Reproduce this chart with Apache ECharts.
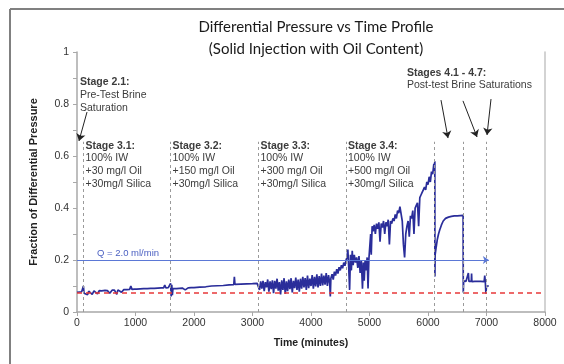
<!DOCTYPE html>
<html>
<head>
<meta charset="utf-8">
<script src="https://cdn.jsdelivr.net/npm/echarts@6/dist/echarts.min.js"></script>
<style>
  html, body { margin: 0; padding: 0; background: #fff; }
  #chart { width: 564px; height: 364px; }
</style>
</head>
<body>
<div id="chart"></div>
<script>
// stage boundaries (minutes)
const stageBounds = [100, 1600, 3100, 4600, 6100, 6600, 7000]
const flowLevel = 0.2
const flowEnd = 7040
const baseLevel = 0.075

// Stage 2.1 + 3.1
const t31 = [0, 40, 80, 100, 110, 120, 150, 180, 200, 230, 260, 290, 320, 350, 380, 420, 450, 480, 520, 560, 600, 640, 680, 700, 720, 760, 800, 850, 900, 920, 940, 980, 1020, 1080, 1140, 1200, 1260, 1320, 1380, 1440, 1480, 1500, 1520, 1560, 1590]
const v31 = [0.076, 0.077, 0.078, 0.079, 0.1, 0.072, 0.078, 0.066, 0.08, 0.079, 0.068, 0.081, 0.08, 0.07, 0.082, 0.081, 0.074, 0.083, 0.082, 0.072, 0.084, 0.084, 0.068, 0.085, 0.084, 0.076, 0.086, 0.086, 0.087, 0.1, 0.087, 0.088, 0.088, 0.089, 0.09, 0.09, 0.091, 0.091, 0.092, 0.093, 0.093, 0.103, 0.093, 0.094, 0.095]
// Stage 3.2
const t32 = [1600, 1610, 1620, 1630, 1640, 1660, 1700, 1750, 1800, 1850, 1900, 1950, 2000, 2100, 2200, 2300, 2400, 2500, 2600, 2680, 2690, 2700, 2800, 2900, 3000, 3080]
const v32 = [0.11, 0.06, 0.105, 0.065, 0.09, 0.085, 0.09, 0.091, 0.092, 0.085, 0.093, 0.094, 0.094, 0.096, 0.097, 0.1, 0.101, 0.102, 0.104, 0.105, 0.135, 0.106, 0.107, 0.108, 0.109, 0.11]
// Stage 3.3
const t33 = [3100, 3120, 3140, 3160, 3180, 3200, 3220, 3240, 3260, 3280, 3300, 3320, 3340, 3360, 3380, 3400, 3420, 3440, 3460, 3480, 3500, 3520, 3540, 3560, 3580, 3600, 3620, 3640, 3660, 3680, 3700, 3720, 3740, 3760, 3780, 3800, 3820, 3840, 3860, 3880, 3900, 3920, 3940, 3960, 3980, 4000, 4020, 4040, 4060, 4080, 4100, 4120, 4140, 4160, 4180, 4200, 4220, 4240, 4260, 4280, 4300, 4320, 4330, 4340, 4360, 4380, 4400, 4420, 4440, 4460, 4480, 4500, 4520, 4540, 4560, 4580, 4600]
const v33 = [0.11, 0.085, 0.118, 0.09, 0.12, 0.08, 0.115, 0.095, 0.125, 0.078, 0.118, 0.088, 0.122, 0.072, 0.12, 0.09, 0.128, 0.082, 0.115, 0.068, 0.122, 0.085, 0.13, 0.07, 0.118, 0.08, 0.125, 0.088, 0.13, 0.075, 0.12, 0.092, 0.132, 0.085, 0.125, 0.078, 0.128, 0.09, 0.135, 0.095, 0.13, 0.085, 0.14, 0.092, 0.128, 0.1, 0.142, 0.09, 0.135, 0.098, 0.145, 0.095, 0.138, 0.1, 0.148, 0.102, 0.14, 0.105, 0.15, 0.1, 0.142, 0.11, 0.06, 0.13, 0.145, 0.125, 0.155, 0.14, 0.165, 0.148, 0.172, 0.16, 0.18, 0.168, 0.19, 0.178, 0.2]
// Stage 3.4
const t34 = [4615, 4630, 4645, 4660, 4675, 4690, 4705, 4720, 4740, 4760, 4780, 4800, 4820, 4840, 4860, 4880, 4895, 4910, 4925, 4940, 4960, 4975, 4990, 5010, 5020, 5030, 5045, 5060, 5080, 5100, 5120, 5140, 5160, 5180, 5200, 5220, 5240, 5260, 5280, 5300, 5320, 5340, 5360, 5380, 5400, 5420, 5440, 5460, 5480, 5500, 5520, 5540, 5560, 5580, 5600, 5620, 5640, 5660, 5680, 5700, 5720, 5740, 5760, 5780, 5800, 5820, 5840, 5860, 5880, 5900, 5920, 5940, 5960, 5980, 6000, 6020, 6040, 6060, 6080, 6100, 6110, 6117]
const v34 = [0.21, 0.24, 0.17, 0.085, 0.22, 0.16, 0.235, 0.18, 0.22, 0.19, 0.21, 0.17, 0.215, 0.15, 0.2, 0.09, 0.19, 0.12, 0.2, 0.16, 0.21, 0.09, 0.205, 0.2, 0.3, 0.22, 0.33, 0.31, 0.335, 0.3, 0.34, 0.32, 0.345, 0.27, 0.34, 0.325, 0.35, 0.3, 0.345, 0.33, 0.355, 0.26, 0.35, 0.34, 0.36, 0.35, 0.375, 0.36, 0.39, 0.38, 0.405, 0.41, 0.35, 0.26, 0.21, 0.3, 0.33, 0.35, 0.29, 0.37, 0.36, 0.39, 0.3, 0.4, 0.41, 0.42, 0.33, 0.44, 0.45, 0.46, 0.47, 0.48, 0.47, 0.5, 0.49, 0.52, 0.5, 0.54, 0.53, 0.57, 0.56, 0.58]
// Stages 4.1 - 4.7
const t4 = [6118, 6122, 6140, 6160, 6180, 6200, 6230, 6260, 6300, 6350, 6400, 6450, 6500, 6550, 6600, 6603, 6610, 6650, 6680, 6690, 6700, 6740, 6745, 6750, 6800, 6900, 6960, 6970, 6980, 6990, 7000, 7040]
const v4 = [0.137, 0.22, 0.25, 0.28, 0.3, 0.315, 0.335, 0.35, 0.36, 0.365, 0.368, 0.37, 0.37, 0.371, 0.372, 0.075, 0.12, 0.118, 0.12, 0.15, 0.118, 0.118, 0.148, 0.117, 0.118, 0.118, 0.117, 0.14, 0.115, 0.07, 0.1, 0.1]

// annotation arrows [from, to] in (minutes, fraction)
const arrows = [
  [[171, 0.769], [34, 0.658]],
  [[6222, 0.815], [6342, 0.669]],
  [[6598, 0.812], [6838, 0.673]],
  [[7077, 0.819], [7009, 0.681]],
]

const zip = (t, v) => t.map((x, i) => [x, v[i]])
const pressure = [].concat(zip(t31, v31), zip(t32, v32), zip(t33, v33), zip(t34, v34), zip(t4, v4))

const font = 'Liberation Sans, Arial, sans-serif'
const noteStyle = {
  fill: '#3c3c3c',
  font: '10.5px ' + font,
  lineHeight: 12.7,
  verticalAlign: 'top',
  rich: {
    b: { fontWeight: 'bold', fontSize: 10.5, fontFamily: font, fill: '#3c3c3c', lineHeight: 12.7 },
  },
}
const note = (x, y, text) => ({
  type: 'text',
  x: x,
  y: y,
  style: Object.assign({}, noteStyle, { text: text }),
})

const myChart = echarts.init(document.getElementById('chart'))
myChart.setOption({
  animation: false,
  backgroundColor: '#fff',
  grid: { left: 77, right: 19, top: 52, bottom: 52, outerBoundsMode: 'none' },
  xAxis: {
    type: 'value',
    min: 0,
    max: 8000,
    interval: 1000,
    name: 'Time (minutes)',
    nameLocation: 'middle',
    nameGap: 26,
    nameTextStyle: { fontFamily: font, fontWeight: 'bold', fontSize: 10.5, color: '#222' },
    axisLine: { lineStyle: { color: '#a8a8a8', width: 1.5 } },
    axisTick: { show: true, length: 4, lineStyle: { color: '#a8a8a8' } },
    axisLabel: { fontFamily: font, fontSize: 10.5, color: '#333', margin: 6, formatter: (v) => String(v) },
    splitLine: { show: false },
  },
  yAxis: [
    {
      type: 'value',
      min: 0,
      max: 1,
      interval: 0.2,
      name: 'Fraction of Differential Pressure',
      nameLocation: 'middle',
      nameGap: 38,
      nameTextStyle: { fontFamily: font, fontWeight: 'bold', fontSize: 11, color: '#222' },
      axisLine: { show: true, lineStyle: { color: '#a8a8a8', width: 1.5 } },
      axisTick: { show: true, length: 4, lineStyle: { color: '#a8a8a8' } },
      minorTick: { show: true, splitNumber: 2, length: 4, lineStyle: { color: '#a8a8a8' } },
      axisLabel: { fontFamily: font, fontSize: 10.5, color: '#333', margin: 8 },
      splitLine: { show: false },
    },
    {
      type: 'value',
      min: 0,
      max: 1,
      position: 'right',
      axisLine: { show: true, lineStyle: { color: '#c4c4c4', width: 1.5 } },
      axisTick: { show: false },
      axisLabel: { show: false },
      splitLine: { show: false },
    },
  ],
  title: {
    text: 'Differential Pressure vs Time Profile\n(Solid Injection with Oil Content)',
    left: 311,
    top: 11,
    textAlign: 'center',
    textStyle: { fontFamily: 'Lato, sans-serif', fontWeight: 'normal', fontSize: 15, color: '#1a1a1a', lineHeight: 22 },
  },
  graphic: [
    { type: 'line', shape: { x1: 10, y1: 9, x2: 564, y2: 9 }, style: { stroke: '#808080', lineWidth: 2 } },
    { type: 'line', shape: { x1: 10, y1: 9, x2: 10, y2: 364 }, style: { stroke: '#808080', lineWidth: 2 } },
    note(80, 76, '{b|Stage 2.1:}\nPre-Test Brine\nSaturation'),
    note(85.5, 139.5, '{b|Stage 3.1:}\n100% IW\n+30 mg/l Oil\n+30mg/l Silica'),
    note(172.5, 139.5, '{b|Stage 3.2:}\n100% IW\n+150 mg/l Oil\n+30mg/l Silica'),
    note(260.5, 139.5, '{b|Stage 3.3:}\n100% IW\n+300 mg/l Oil\n+30mg/l Silica'),
    note(348, 139.5, '{b|Stage 3.4:}\n100% IW\n+500 mg/l Oil\n+30mg/l Silica'),
    note(407, 66.5, '{b|Stages 4.1 - 4.7:}\nPost-test Brine Saturations'),
    {
      type: 'text',
      x: 97,
      y: 253,
      style: { text: 'Q = 2.0 ml/min', fill: '#4a5fc1', font: '9.5px ' + font, verticalAlign: 'middle' },
    },
  ],
  series: [
    {
      type: 'line',
      data: pressure,
      showSymbol: false,
      lineStyle: { color: '#2a2d9a', width: 1.7 },
      z: 3,
    },
    {
      type: 'line',
      data: [],
      z: 2,
      markLine: {
        silent: true,
        symbol: 'none',
        label: { show: false },
        lineStyle: { color: '#9a9a9a', width: 1, type: [3, 3] },
        data: stageBounds.map((x) => [{ coord: [x, 0] }, { coord: [x, 0.655] }]),
      },
    },
    {
      type: 'line',
      data: [],
      z: 4,
      markLine: {
        silent: true,
        symbol: ['none', 'arrow'],
        symbolSize: 6,
        label: { show: false },
        lineStyle: { color: '#5b78d6', width: 1.2, type: 'solid' },
        data: [[{ coord: [0, flowLevel] }, { coord: [flowEnd, flowLevel] }]],
      },
    },
    {
      type: 'line',
      data: [],
      z: 5,
      markLine: {
        silent: true,
        symbol: 'none',
        label: { show: false },
        lineStyle: { color: '#e8393a', width: 1.6, type: [5, 4] },
        data: [[{ coord: [0, baseLevel] }, { coord: [8000, baseLevel] }]],
      },
    },
    {
      type: 'line',
      data: [],
      z: 5,
      markLine: {
        silent: true,
        symbol: ['none', 'arrow'],
        symbolSize: 7,
        label: { show: false },
        lineStyle: { color: '#222', width: 1, type: 'solid' },
        data: arrows.map((a) => [{ coord: a[0] }, { coord: a[1] }]),
      },
    },
  ],
})
</script>
</body>
</html>
